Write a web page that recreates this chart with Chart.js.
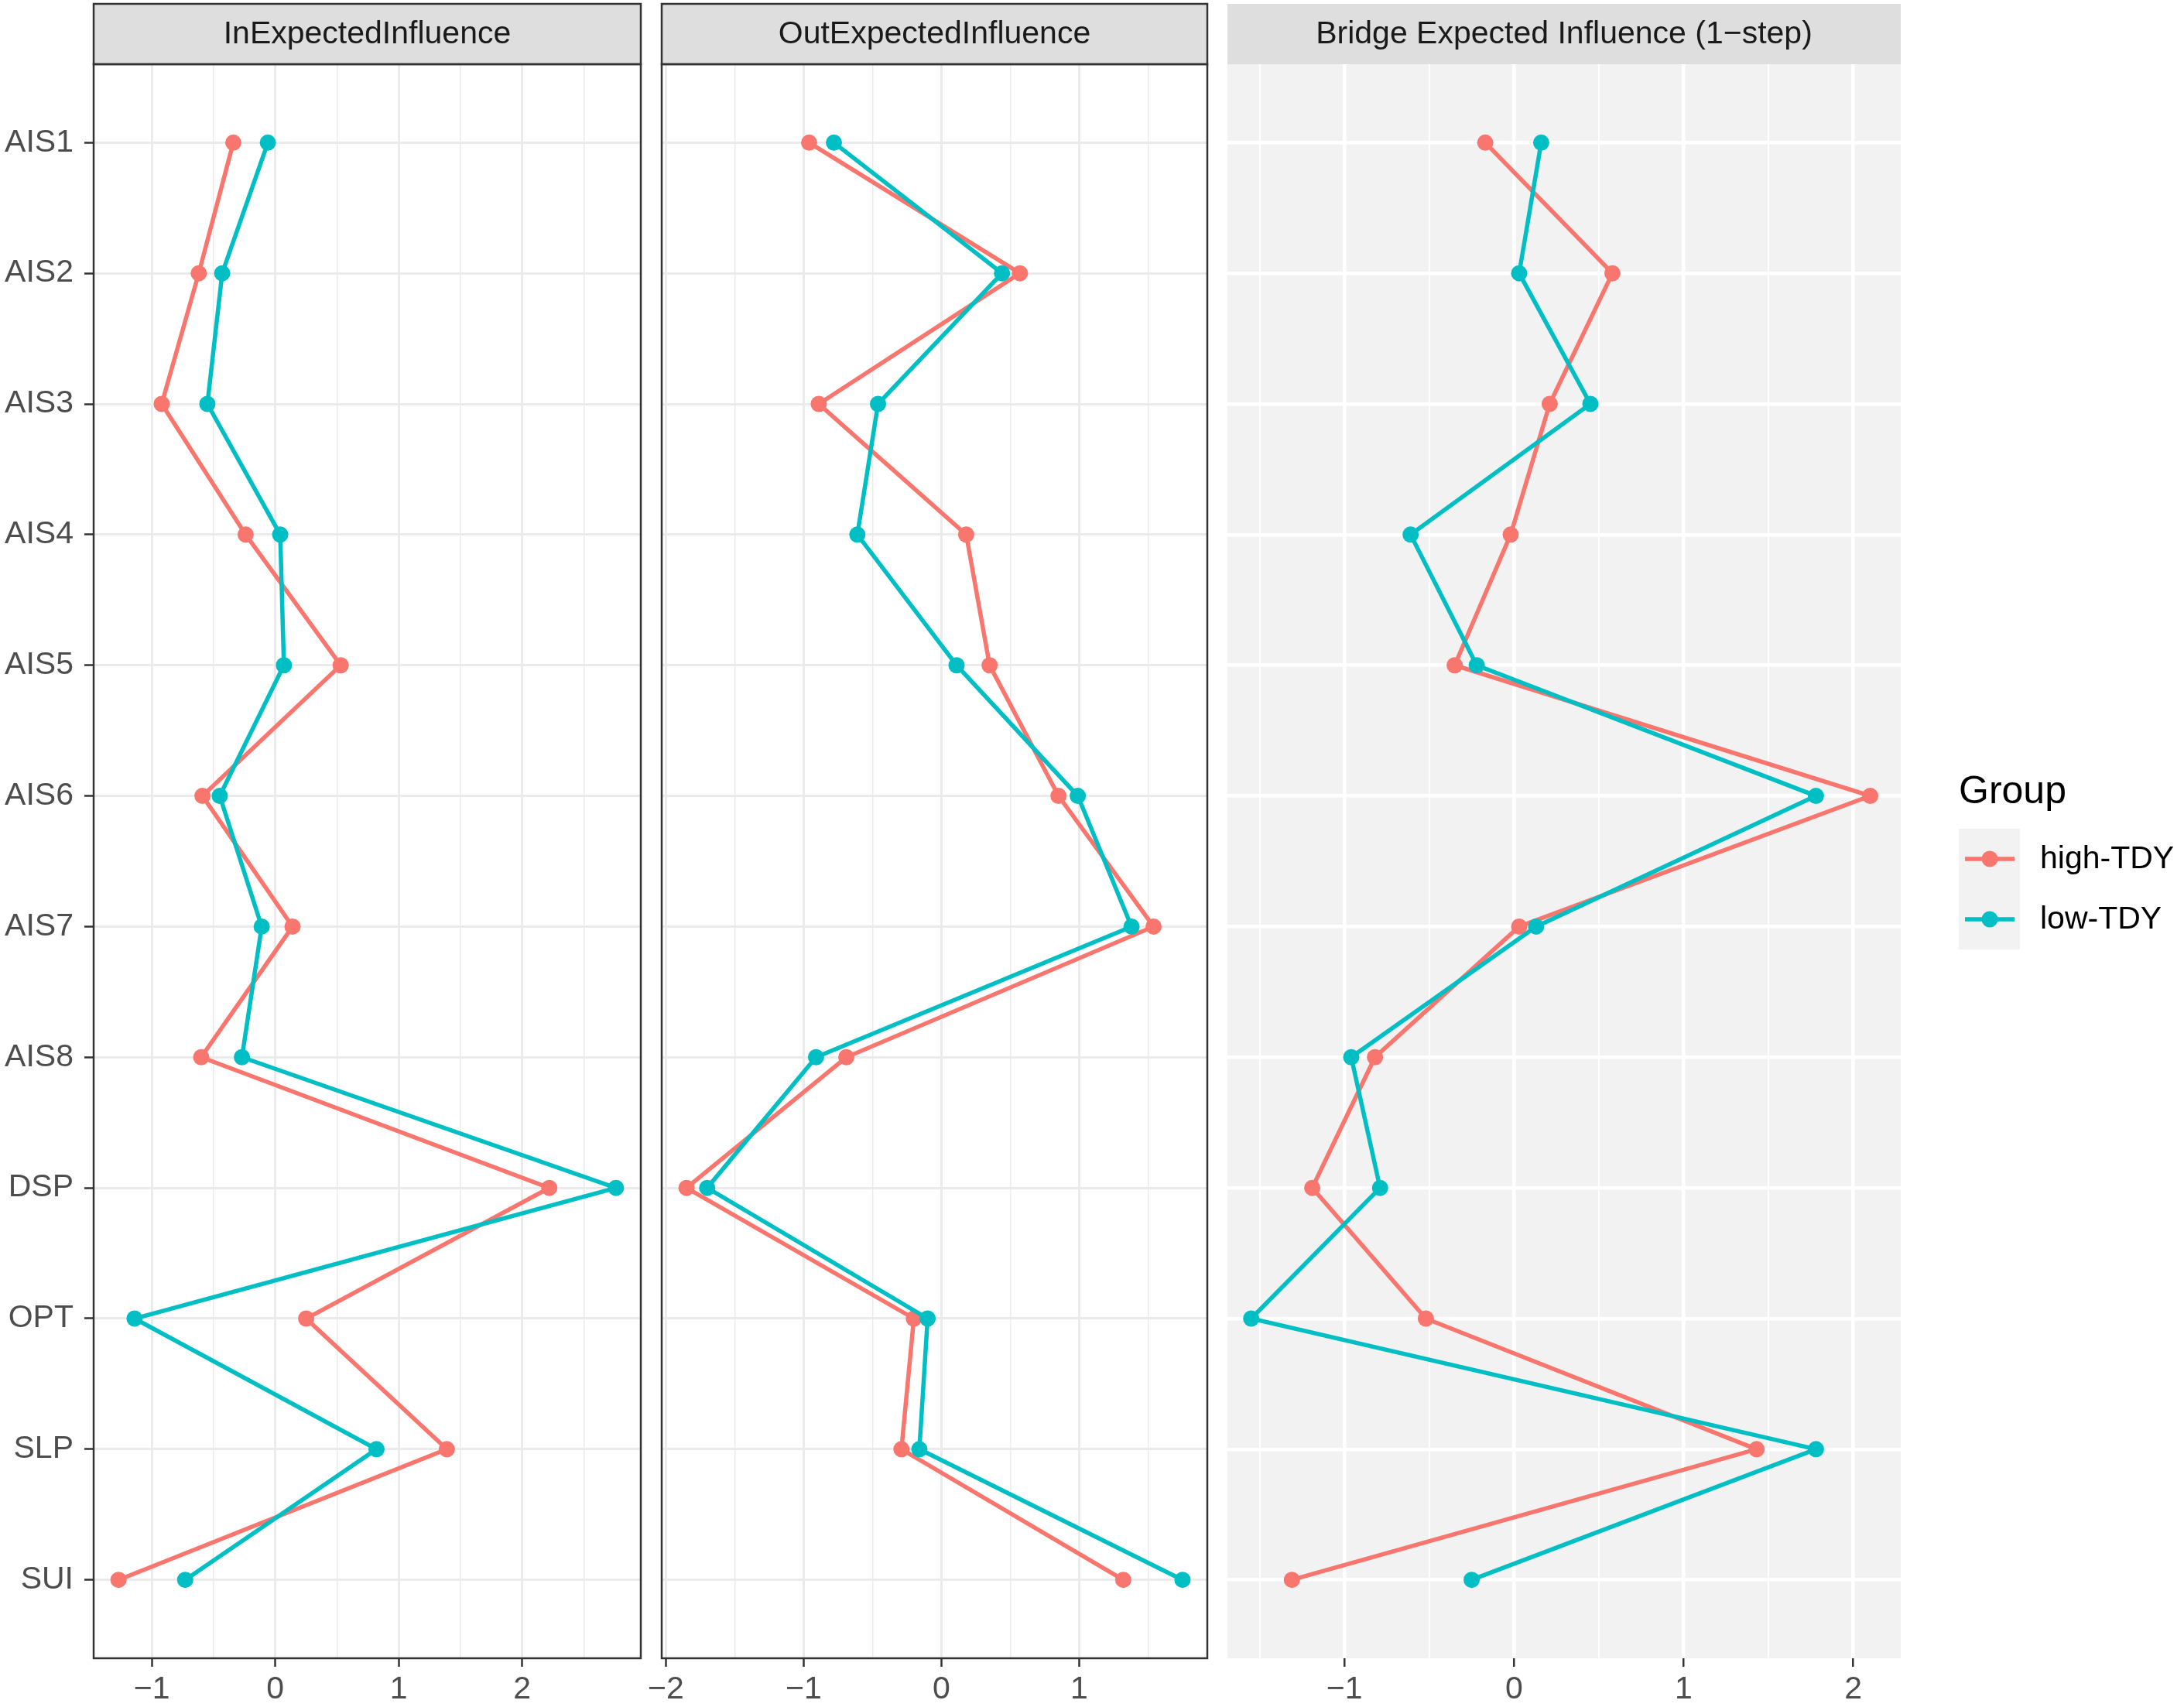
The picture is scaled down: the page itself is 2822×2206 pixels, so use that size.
<!DOCTYPE html>
<html>
<head>
<meta charset="utf-8">
<script src="https://cdn.jsdelivr.net/npm/chart.js@4.4.1/dist/chart.umd.min.js"></script>
<style>
  body { margin: 0; background: #fff; }
  #wrap { position: relative; width: 2822px; height: 2206px; }
  canvas { position: absolute; left: 0; top: 0; }
</style>
</head>
<body>
<div id="wrap">
  <canvas id="c1" width="2822" height="2206"></canvas>
  <canvas id="c2" width="2822" height="2206"></canvas>
  <canvas id="c3" width="2822" height="2206"></canvas>
</div>
<script>
// nodes, top to bottom
const nodes = ['AIS1', 'AIS2', 'AIS3', 'AIS4', 'AIS5', 'AIS6', 'AIS7', 'AIS8', 'DSP', 'OPT', 'SLP', 'SUI'];
const groups = ['high-TDY', 'low-TDY'];
const colours = ['#F8766D', '#00BFC4'];

const inHigh = [-0.34, -0.62, -0.92, -0.24, 0.53, -0.59, 0.14, -0.60, 2.22, 0.25, 1.39, -1.27];
const inLow = [-0.06, -0.43, -0.55, 0.04, 0.07, -0.45, -0.11, -0.27, 2.76, -1.14, 0.82, -0.73];

const outHigh = [-0.96, 0.57, -0.89, 0.18, 0.35, 0.85, 1.54, -0.69, -1.85, -0.20, -0.29, 1.32];
const outLow = [-0.78, 0.44, -0.46, -0.61, 0.11, 0.99, 1.38, -0.91, -1.70, -0.10, -0.16, 1.75];

const bridgeHigh = [-0.17, 0.58, 0.21, -0.02, -0.35, 2.10, 0.03, -0.82, -1.19, -0.52, 1.43, -1.31];
const bridgeLow = [0.16, 0.03, 0.45, -0.61, -0.22, 1.78, 0.13, -0.96, -0.79, -1.55, 1.78, -0.25];

// axis range of the bridge panel
const bridgeRange = [-1.69, 2.28];

const titles = ['InExpectedInfluence', 'OutExpectedInfluence', 'Bridge Expected Influence (1\u2212step)'];

Chart.defaults.font.family = "'Liberation Sans', Arial, sans-serif";

const isInt = v => Math.abs(v - Math.round(v)) < 1e-6;
const fmt = v => (v < 0 ? '\u2212' : '') + Math.abs(Math.round(v));

// strip, border, background and legend
const panelDeco = {
  id: 'panelDeco',
  beforeDraw(chart, args, o) {
    const a = chart.chartArea, ctx = chart.ctx;
    if (o.bg) {
      ctx.save();
      ctx.fillStyle = o.bg;
      ctx.fillRect(a.left, a.top, a.right - a.left, a.bottom - a.top);
      ctx.restore();
    }
  },
  afterDraw(chart, args, o) {
    const a = chart.chartArea, ctx = chart.ctx;
    ctx.save();
    // strip
    const st = a.top - 78;
    ctx.fillStyle = '#DEDEDE';
    ctx.fillRect(a.left, st, a.right - a.left, 78);
    if (o.border) {
      ctx.strokeStyle = '#333333';
      ctx.lineWidth = 2.5;
      ctx.strokeRect(a.left, st, a.right - a.left, 78);
      ctx.strokeRect(a.left, a.top, a.right - a.left, a.bottom - a.top);
    }
    ctx.fillStyle = '#1A1A1A';
    ctx.font = "41px 'Liberation Sans', Arial, sans-serif";
    ctx.textAlign = 'center';
    ctx.textBaseline = 'middle';
    ctx.fillText(o.title, (a.left + a.right) / 2, st + 40);

    if (o.legend) {
      ctx.textAlign = 'left';
      ctx.fillStyle = '#000';
      ctx.font = "50px 'Liberation Sans', Arial, sans-serif";
      ctx.fillText('Group', 2531, 1024);
      chart.data.datasets.forEach((ds, i) => {
        const top = 1071 + i * 78;
        const cy = top + 39;
        ctx.fillStyle = '#F2F2F2';
        ctx.fillRect(2531, top, 79, 78);
        ctx.strokeStyle = ds.borderColor;
        ctx.lineWidth = 5.5;
        ctx.beginPath();
        ctx.moveTo(2539, cy);
        ctx.lineTo(2603, cy);
        ctx.stroke();
        ctx.fillStyle = ds.backgroundColor;
        ctx.beginPath();
        ctx.arc(2571, cy, 10.5, 0, Math.PI * 2);
        ctx.fill();
        ctx.fillStyle = '#000';
        ctx.font = "41px 'Liberation Sans', Arial, sans-serif";
        ctx.fillText(ds.label, 2636, cy + 1);
      });
    }
    ctx.restore();
  }
};

// ggplot style 5% expansion around the data
function limits(a, b) {
  const lo = Math.min(...a, ...b), hi = Math.max(...a, ...b);
  const pad = (hi - lo) * 0.05;
  return [lo - pad, hi + pad];
}

function makePanel(id, title, high, low, cfg) {
  const [xmin, xmax] = cfg.range || limits(high, low);
  const grey = cfg.theme === 'grey';
  const gridCol = grey ? '#FFFFFF' : '#EBEBEB';
  const series = [high, low];
  new Chart(document.getElementById(id), {
    type: 'scatter',
    data: {
      datasets: series.map((vals, g) => ({
        label: groups[g],
        data: vals.map((v, i) => ({ x: v, y: i })),
        showLine: true,
        borderColor: colours[g],
        backgroundColor: colours[g],
        borderWidth: 5.5,
        pointRadius: 10.5,
        pointBorderWidth: 0,
        order: 1 - g
      }))
    },
    options: {
      responsive: false,
      animation: false,
      devicePixelRatio: 1,
      layout: { padding: { top: 83, bottom: 0, left: cfg.padL, right: cfg.padR } },
      plugins: {
        legend: { display: false },
        tooltip: { enabled: false },
        panelDeco: { title: title, border: !grey, bg: grey ? '#F2F2F2' : null, legend: cfg.legend }
      },
      scales: {
        x: {
          type: 'linear',
          min: xmin,
          max: xmax,
          border: { display: false },
          afterBuildTicks(s) {
            const t = [];
            for (let v = Math.ceil(s.min * 2) / 2; v <= s.max + 1e-9; v += 0.5) t.push({ value: Math.round(v * 2) / 2 });
            s.ticks = t;
          },
          afterFit(s) { s.height = 63; },
          grid: {
            color: gridCol,
            lineWidth: ctx => isInt(ctx.tick.value) ? (grey ? 4.5 : 3) : (grey ? 2 : 1.5),
            tickColor: ctx => isInt(ctx.tick.value) ? '#333333' : 'rgba(0,0,0,0)',
            tickWidth: 2.5,
            tickLength: 11,
            drawTicks: true
          },
          ticks: {
            autoSkip: false,
            maxRotation: 0,
            padding: 5,
            color: '#4D4D4D',
            font: { size: 41 },
            callback: v => isInt(v) ? fmt(v) : ''
          }
        },
        y: {
          type: 'linear',
          reverse: true,
          min: -0.6,
          max: nodes.length - 0.4,
          border: { display: false },
          afterBuildTicks(s) { s.ticks = nodes.map((n, i) => ({ value: i })); },
          afterFit(s) { s.width = cfg.yWidth; },
          grid: {
            color: gridCol,
            lineWidth: grey ? 4.5 : 3,
            tickColor: cfg.yLabels ? '#333333' : 'rgba(0,0,0,0)',
            tickWidth: 2.5,
            tickLength: cfg.yLabels ? 12 : 0,
            drawTicks: cfg.yLabels
          },
          ticks: {
            display: cfg.yLabels,
            autoSkip: false,
            padding: 14,
            color: '#4D4D4D',
            font: { size: 41 },
            callback: v => nodes[v]
          }
        }
      }
    },
    plugins: [panelDeco]
  });
}

makePanel('c1', titles[0], inHigh, inLow, { padL: 0, padR: 2822 - 828, yWidth: 121, yLabels: true, theme: 'bw', legend: false });
makePanel('c2', titles[1], outHigh, outLow, { padL: 855, padR: 2822 - 1560, yWidth: 0, yLabels: false, theme: 'bw', legend: false });
makePanel('c3', titles[2], bridgeHigh, bridgeLow, { padL: 1586, padR: 2822 - 2456, yWidth: 0, yLabels: false, theme: 'grey', legend: true, range: bridgeRange });
</script>
</body>
</html>
